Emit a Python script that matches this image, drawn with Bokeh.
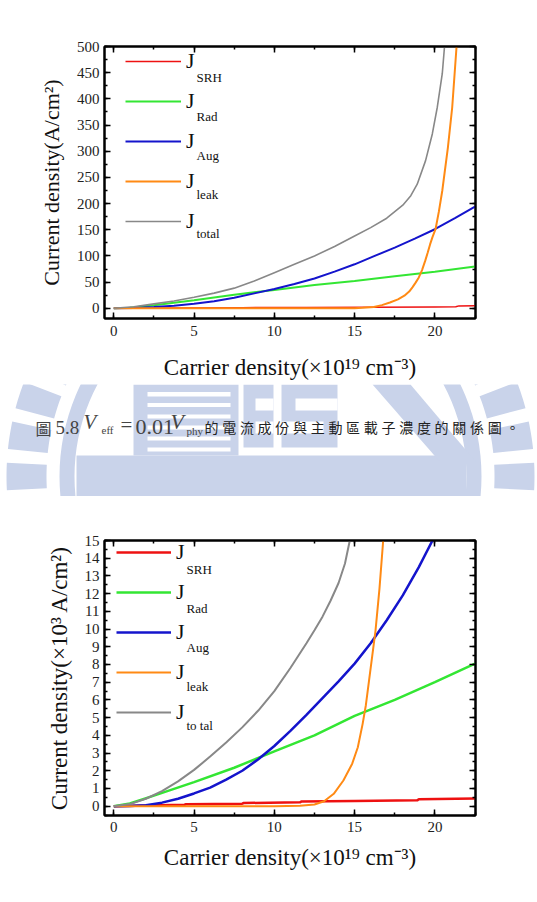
import numpy as np
from bokeh.plotting import figure
from bokeh.models import (Range1d, LinearAxis, SingleIntervalTicker, Legend, LegendItem,
                          Label, CustomJSTickFormatter)
from bokeh.layouts import column
from bokeh.embed import file_html
from bokeh.resources import INLINE
from bokeh.core.properties import value

# ---------------- data: upper chart (A/cm^2) ----------------
N_SRH_T = [0, 4, 8, 12, 16, 20, 21.3, 21.5, 22.5]
SRH_T = [0, 0.6, 1.2, 1.7, 2.2, 2.6, 2.8, 4.6, 5.0]
N_RAD_T = [0, 1, 2.5, 5, 7.5, 10, 12.5, 15, 17.5, 20, 22.5]
RAD_T = [0, 1.2, 6, 15.5, 26, 35, 44.5, 52, 61, 70, 80]
N_AUG_T = [0, 1.25, 2.5, 3.75, 5, 6.25, 7.5, 8.75, 10, 11.25, 12.5, 13.75, 15, 16.25, 17.5,
           18.75, 20, 21.25, 22.5]
AUG_T = [0, 0.5, 2.5, 5, 8.5, 13.5, 20, 28.5, 37, 46.5, 57, 70, 84, 100, 116, 133, 151, 172, 194]
N_LEAK_T = [0, 5, 10, 15, 15.5, 16.2, 16.7, 17.2, 17.7, 18.1, 18.4, 18.6, 18.8, 19.0, 19.2,
            19.4, 19.55, 19.7, 19.85, 20.04, 20.25, 20.46, 20.81, 21.08, 21.35]
LEAK_T = [0, 0, 0, 0.3, 0.8, 2.5, 6, 11, 17, 24, 32, 40, 49, 59, 73, 91, 106, 122, 136, 151,
          185, 224.5, 307, 384, 500]
N_TOT_T = [0, 1.25, 2.5, 3.75, 5, 6.25, 7.5, 8.75, 10, 11.25, 12.5, 13.75, 15, 16, 17, 18,
           18.5, 18.9, 19.42, 19.84, 20.15, 20.46, 20.6]
TOT_T = [0, 3, 8.5, 14, 21, 29, 38.5, 52, 68, 84, 100, 118, 138, 154, 172, 197, 215, 237,
         282, 333, 384, 448, 500]

# ---------------- data: lower chart (x10^3 A/cm^2) ----------------
N_SRH_B = [0, 2, 4.4, 4.5, 8.0, 8.1, 11.6, 11.7, 15, 18.9, 19.0, 22.5]
SRH_B = [0, 0.04, 0.08, 0.11, 0.14, 0.18, 0.22, 0.27, 0.3, 0.33, 0.39, 0.43]
N_RAD_B = [0, 1, 2.5, 5, 7.5, 10, 12.5, 15, 17.5, 20, 22.5]
RAD_B = [0, 0.15, 0.6, 1.36, 2.17, 3.1, 4.0, 5.1, 6.0, 7.0, 8.05]
N_AUG_B = [0, 1, 2, 3, 4, 5, 6, 7, 8, 9, 10, 11, 12, 13, 14, 15, 16, 17, 18, 19, 19.85]
AUG_B = [0, 0.01, 0.06, 0.2, 0.42, 0.72, 1.05, 1.5, 2.0, 2.65, 3.4, 4.25, 5.15, 6.1, 7.05,
         8.05, 9.2, 10.5, 11.9, 13.5, 15.0]
N_LEAK_B = [0, 5, 10, 11.6, 12.5, 13.1, 13.7, 14.3, 14.85, 15.2, 15.5, 15.7, 15.9, 16.1, 16.3,
            16.55, 16.78]
LEAK_B = [0, 0, 0, 0.02, 0.1, 0.28, 0.7, 1.45, 2.4, 3.33, 4.65, 5.7, 7.1, 8.5, 9.9, 12.3, 15.0]
N_TOT_B = [0, 1, 2, 3, 4, 5, 6, 7, 8, 9, 10, 11, 12, 12.5, 13, 13.5, 14, 14.4, 14.7]
TOT_B = [0, 0.12, 0.42, 0.85, 1.4, 2.05, 2.8, 3.6, 4.45, 5.4, 6.5, 7.8, 9.2, 9.93, 10.7, 11.6,
         12.6, 13.7, 15.0]

SUBSCRIPTS = ["SRH", "Rad", "Aug", "leak", "total"]
SUBSCRIPTS_B = ["SRH", "Rad", "Aug", "leak", "to tal"]
COLORS = ["#ee1111", "#33e633", "#1414cc", "#ff8a14", "#888888"]

X_TITLE = "Carrier density(\u00d710\u00b9\u2079 cm\u207b\u00b3)"
Y_TITLE_T = "Current density(A/cm\u00b2)"
Y_TITLE_B = "Current density(\u00d710\u00b3 A/cm\u00b2)"

CAP_FIG = "\u5716"
CAP_NUM = "5.8"
CAP_ZH = "的電流成份與主動區載子濃度的關係圖。"

SERIF = "Liberation Serif"
WM = "#c9d3ea"


def make_chart(height, yr, yint, btop, bbottom, lab_sd, title_sd, ytitle, ytitle_size):
    p = figure(width=537, height=height, x_range=Range1d(-0.58, 22.53), y_range=Range1d(*yr),
               output_backend="svg", toolbar_location=None, x_axis_type=None, y_axis_type=None,
               min_border_left=104, min_border_right=62, min_border_top=btop,
               min_border_bottom=bbottom)
    p.outline_line_color = "black"
    p.outline_line_width = 2
    xt = SingleIntervalTicker(interval=5, num_minor_ticks=2)
    yt = SingleIntervalTicker(interval=yint, num_minor_ticks=2)
    blank = CustomJSTickFormatter(code="return '';")
    for loc, tk, show in [("below", xt, True), ("above", xt, False),
                          ("left", yt, True), ("right", yt, False)]:
        ax = LinearAxis(ticker=tk)
        ax.axis_line_width = 2
        ax.major_tick_in = 6
        ax.major_tick_out = 0
        ax.minor_tick_in = 3
        ax.minor_tick_out = 0
        ax.major_tick_line_width = 1.5
        ax.minor_tick_line_width = 1.5
        ax.major_label_text_font = SERIF
        ax.major_label_text_font_size = "15px"
        ax.major_label_text_color = "#222222"
        ax.axis_label_text_font = SERIF
        ax.axis_label_text_font_style = "normal"
        ax.axis_label_text_font_size = "23px"
        ax.axis_label_text_color = "#111111"
        if not show:
            ax.formatter = blank
        elif loc == "below":
            ax.major_label_standoff = lab_sd
            ax.axis_label = X_TITLE
            ax.axis_label_standoff = title_sd
        else:
            ax.major_label_standoff = 5
            ax.axis_label = ytitle
            ax.axis_label_standoff = 10
            ax.axis_label_text_font_size = ytitle_size
        p.add_layout(ax, loc)
    return p


def add_series(p, data, widths):
    rs = []
    for (xs, ys), c, w in zip(data, COLORS, widths):
        rs.append(p.line(xs, ys, line_color=c, line_width=w))
    return rs


def add_legend(p, rs, lx, ly, gw, subs, sx, sy):
    items = [LegendItem(label=value("J"), renderers=[r]) for r in rs]
    leg = Legend(items=items, location=(lx, ly), glyph_width=gw, glyph_height=20,
                 label_height=20, spacing=14, padding=0, margin=0,
                 border_line_alpha=0, background_fill_alpha=0, label_standoff=5,
                 label_text_font=SERIF, label_text_font_size="22px",
                 label_text_baseline="middle", label_text_color="#111111")
    p.add_layout(leg)
    for i, s in enumerate(subs):
        p.add_layout(Label(x=sx, y=sy - 39 * i, x_units="screen", y_units="screen", text=s,
                           text_font=SERIF, text_font_size="13px", text_color="#111111"))


# ---------------- upper chart ----------------
p1 = make_chart(384, (-19.5, 500), 50, 46, 66, 7, 16, Y_TITLE_T, "22px")
r1 = add_series(p1, [(N_SRH_T, SRH_T), (N_RAD_T, RAD_T), (N_AUG_T, AUG_T),
                     (N_LEAK_T, LEAK_T), (N_TOT_T, TOT_T)], [1.5, 2, 2, 2, 1.6])
add_legend(p1, r1, 21, 84, 56, SUBSCRIPTS, 92, 234)

# ---------------- caption band with watermark ----------------
cap = figure(width=537, height=112, x_range=Range1d(0, 537), y_range=Range1d(496, 384),
             output_backend="svg", toolbar_location=None, x_axis_type=None, y_axis_type=None,
             min_border=0, min_border_left=0, min_border_right=0, min_border_top=0,
             min_border_bottom=0)
cap.outline_line_color = None
cap.frame_align = False

CX, CY = 270, 476


def sector(r0, r1, a0, a1, n=10):
    t = np.radians(np.linspace(a0, a1, n))
    xs = list(CX + r1 * np.cos(t)) + list(CX + r0 * np.cos(t[::-1]))
    ys = list(CY - r1 * np.sin(t)) + list(CY - r0 * np.sin(t[::-1]))
    return xs, ys


txs, tys = [], []
for a in [150, 159, 168, 177, 186]:
    for lo, hi in [(a, a + 6), (180 - a - 6, 180 - a)]:
        xs, ys = sector(224, 264, lo, hi)
        txs.append(xs)
        tys.append(ys)
cap.patches(txs, tys, fill_color=WM, line_color=None)
cap.annulus(x=[CX], y=[CY], inner_radius=196, outer_radius=211, fill_color=WM, line_color=None)
cap.quad(left=[76, 133, 243, 281], right=[466, 238, 273, 337],
         top=[455, 384, 384, 384], bottom=[496, 455, 447, 447], fill_color=WM, line_color=None)
cap.quad(left=[147] * 6, right=[230] * 6, top=[391.5, 402.5, 414, 425, 436, 447],
         bottom=[396, 406.5, 418, 429, 440, 451], fill_color="white", line_color=None)
cap.quad(left=[255, 255, 295, 281], right=[273, 273, 337, 323], top=[398, 421, 398, 421],
         bottom=[410, 433, 410, 433], fill_color="white", line_color=None)
cap.patch([372, 410, 476, 440], [384, 384, 462, 462], fill_color=WM, line_color=None)

cap.add_layout(Label(x=35, y=427, text=CAP_FIG, text_font="Noto Sans CJK TC",
                     text_font_size="16px", text_baseline="middle"))
cap.add_layout(Label(x=55, y=433, text=CAP_NUM, text_font=SERIF, text_font_size="19px"))
cap.add_layout(Label(x=83, y=433, text="V", text_font=SERIF, text_font_size="21px",
                     text_font_style="italic"))
cap.add_layout(Label(x=101, y=435, text="eff", text_font=SERIF, text_font_size="11px"))
cap.add_layout(Label(x=120, y=436, text="=", text_font=SERIF, text_font_size="21px"))
cap.add_layout(Label(x=135, y=433, text="0.01", text_font=SERIF, text_font_size="22px"))
cap.add_layout(Label(x=170, y=433, text="V", text_font=SERIF, text_font_size="22px",
                     text_font_style="italic"))
cap.add_layout(Label(x=186, y=436, text="phy", text_font=SERIF, text_font_size="11px"))
n_zh = len(CAP_ZH)
cap.text(x=204 + 17.7 * np.arange(n_zh), y=[426.5] * n_zh, text=list(CAP_ZH),
         text_font=value("Noto Sans CJK TC"), text_font_size="14px", text_baseline="middle",
         text_color="#222222")

# ---------------- lower chart ----------------
p2 = make_chart(406, (-0.525, 15), 1, 44, 87, 6, 10, Y_TITLE_B, "23px")
r2 = add_series(p2, [(N_SRH_B, SRH_B), (N_RAD_B, RAD_B), (N_AUG_B, AUG_B),
                     (N_LEAK_B, LEAK_B), (N_TOT_B, TOT_B)], [2.5, 2.5, 2.5, 2, 2])
add_legend(p2, r2, 12, 90, 55, SUBSCRIPTS_B, 82, 239)

layout = column(p1, cap, p2, spacing=0)
open("out.html", "w").write(file_html(layout, INLINE))
